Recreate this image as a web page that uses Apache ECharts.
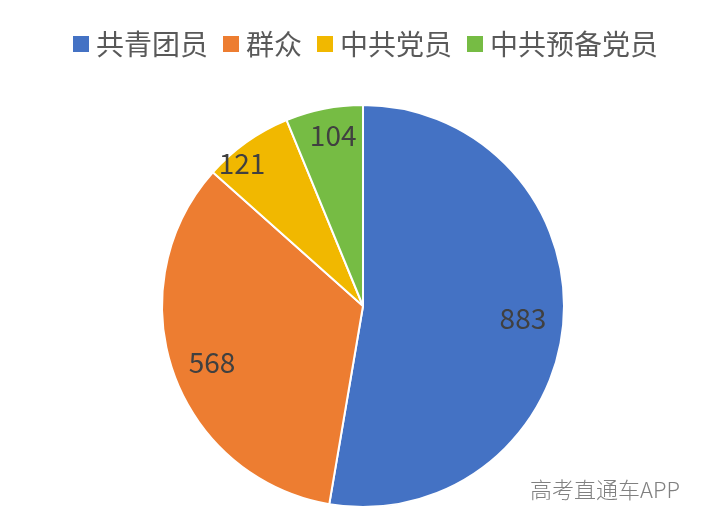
<!DOCTYPE html>
<html><head><meta charset="utf-8">
<script src="https://cdn.jsdelivr.net/npm/echarts@6/dist/echarts.min.js"></script>
<style>html,body{margin:0;padding:0;background:#fff;}#c{width:707px;height:531px;}</style>
</head><body><div id="c"></div>
<script>
const categories = ['共青团员','群众','中共党员','中共预备党员'];
const values = [883, 568, 121, 104];
const colors = ['#4472C4','#ED7D31','#F1B800','#76BC44'];
const labelNudge = [[-9,-2],[9,0],[-23,-4],[3,-4]];
const font = '"Noto Sans CJK SC", "Noto Sans", sans-serif';
const chart = echarts.init(document.getElementById('c'));
chart.setOption({
  animation:false,
  color: colors,
  legend:{
    top: 25, left: 68, itemWidth: 16, itemHeight: 16, itemGap: 15, icon:'rect',
    itemStyle:{borderWidth:0},
    textStyle:{fontFamily:font, fontSize:28, color:'#595959', padding:[0,0,0,2]},
    data: categories
  },
  graphic:[{type:'text', left: 530, top: 479, style:{text:'高考直通车APP', font:'300 22px '+font, fill:'#808080'}}],
  series:[
    {type:'pie', center:[363,306], radius:[0,201], startAngle:90, clockwise:true,
     label:{show:false}, labelLine:{show:false}, silent:true,
     itemStyle:{borderColor:'#fff', borderWidth:2},
     data: categories.map((n,i)=>({name:n, value:values[i]}))},
    {type:'pie', center:[363,306], radius:[132,201], startAngle:90, clockwise:true, silent:true,
     itemStyle:{color:'rgba(0,0,0,0)'}, legendHoverLink:false,
     label:{show:true, position:'inside', formatter:'{c}', fontFamily:font, fontSize:28, color:'#404040'},
     labelLine:{show:false},
     data: categories.map((n,i)=>({name:n, value:values[i], label:{offset:labelNudge[i]}}))}
  ]
});
</script></body></html>
